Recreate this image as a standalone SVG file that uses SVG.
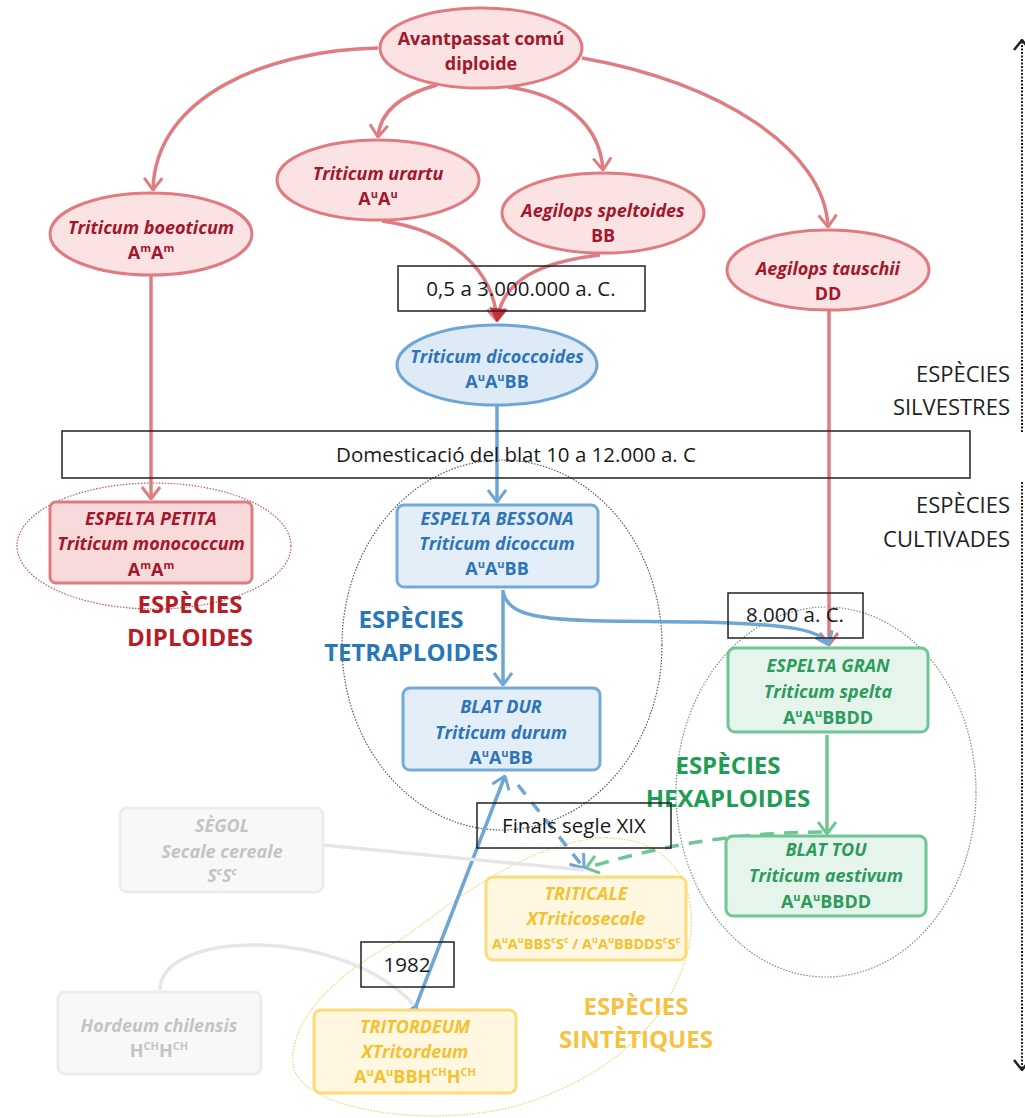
<svg xmlns="http://www.w3.org/2000/svg" width="1025" height="1118" viewBox="0 0 1025 1118">
<style>
text{font-family:"Open Sans",Lato,"Liberation Sans",sans-serif;text-anchor:middle}
.n{font-size:18px;font-weight:bold;font-style:italic}
.g{font-size:18px;font-weight:bold}
.gs{font-size:14.5px;font-weight:bold}
.lab{font-size:20.5px;fill:#1a1a1a}
.hd{font-size:22px;fill:#222;text-anchor:end}
.big{font-size:24px;font-weight:bold}
.red{fill:#a3162b}.blue{fill:#2e75b6}.grn{fill:#2c9b5c}.yel{fill:#f2c230}.gry{fill:#c4c4c4}
.er{fill:#fce3e3;stroke:#e07c80;stroke-width:3}
.eb{fill:#deebf7;stroke:#6ea6d4;stroke-width:3}
.br{fill:#f9dada;stroke:#db7d82;stroke-width:3}
.bb{fill:#e3eef8;stroke:#74aad8;stroke-width:3}
.bg{fill:#e6f5ec;stroke:#6fc594;stroke-width:3}
.by{fill:#fff7e0;stroke:#fbdc7a;stroke-width:3}
.bk{fill:#f8f8f8;stroke:#ececec;stroke-width:3}
.lb{fill:none;stroke:#222;stroke-width:1.5}
.cr{fill:none;stroke:#e07c80;stroke-width:3.5}
.cb{fill:none;stroke:#6ea6d4;stroke-width:3.5}
.cg{fill:none;stroke:#6fc594;stroke-width:3.5}
.ck{fill:none;stroke:#e6e6e6;stroke-width:3.5}
.dot{fill:none;stroke-width:1.2;stroke-dasharray:1.5 1.5}
</style>
<defs>
<marker id="mr" viewBox="0 0 14 20" refX="13" refY="10" markerWidth="14" markerHeight="20" orient="auto" markerUnits="userSpaceOnUse"><path d="M1,1 L13,10 L1,19" fill="none" stroke="#e07c80" stroke-width="3"/></marker>
<marker id="mrf" viewBox="0 0 14 20" refX="13" refY="10" markerWidth="14" markerHeight="20" orient="auto" markerUnits="userSpaceOnUse"><path d="M1,2 L13,10 L1,18 Z" fill="#c8303a" stroke="#c8303a" stroke-width="1.5"/></marker>
<marker id="mb" viewBox="0 0 14 20" refX="13" refY="10" markerWidth="14" markerHeight="20" orient="auto" markerUnits="userSpaceOnUse"><path d="M1,1 L13,10 L1,19" fill="none" stroke="#6ea6d4" stroke-width="3"/></marker>
<marker id="mg" viewBox="0 0 14 20" refX="13" refY="10" markerWidth="14" markerHeight="20" orient="auto" markerUnits="userSpaceOnUse"><path d="M1,1 L13,10 L1,19" fill="none" stroke="#6fc594" stroke-width="3"/></marker>
<marker id="mk" viewBox="0 0 12 18" refX="11" refY="9" markerWidth="12" markerHeight="18" orient="auto" markerUnits="userSpaceOnUse"><path d="M1,1 L11,9 L1,17" fill="none" stroke="#222" stroke-width="2.5"/></marker>
</defs>
<rect width="1025" height="1118" fill="#fff"/>

<g id="groups">
<ellipse class="dot" cx="154" cy="546" rx="137" ry="63" stroke="#b85a5a"/>
<ellipse class="dot" cx="502" cy="645" rx="160" ry="185" stroke="#4a5a7a"/>
<ellipse class="dot" cx="826" cy="792" rx="150" ry="185" stroke="#6a9a80"/>
<path class="dot" stroke="#f0d070" d="M600,838 C680,835 705,900 685,960 C665,1030 600,1080 520,1105 C430,1130 300,1110 293,1065 C288,1020 340,970 400,940 C450,905 520,845 600,838 Z"/>
<text class="big" fill="#b81c25" x="190" y="613">ESPÈCIES</text>
<text class="big" fill="#b81c25" x="190" y="646">DIPLOIDES</text>
<text class="big" fill="#2878b8" x="411" y="628">ESPÈCIES</text>
<text class="big" fill="#2878b8" x="411" y="661">TETRAPLOIDES</text>
<text class="big" fill="#1e9e55" x="728" y="774">ESPÈCIES</text>
<text class="big" fill="#1e9e55" x="728" y="807">HEXAPLOIDES</text>
<text class="big" fill="#f5c242" x="636" y="1015">ESPÈCIES</text>
<text class="big" fill="#f5c242" x="636" y="1048">SINTÈTIQUES</text>
<text class="hd" x="1010" y="382">ESPÈCIES</text>
<text class="hd" x="1010" y="415">SILVESTRES</text>
<text class="hd" x="1010" y="513">ESPÈCIES</text>
<text class="hd" x="1010" y="547">CULTIVADES</text>
<line x1="1022" y1="432" x2="1022" y2="40" stroke="#222" stroke-width="2" stroke-dasharray="2 1.5" marker-end="url(#mk)"/>
<line x1="1022" y1="482" x2="1022" y2="1070" stroke="#222" stroke-width="2" stroke-dasharray="2 1.5" marker-end="url(#mk)"/>
</g>

<g id="connectors">
<path class="cr" d="M378,48 C270,50 155,95 153,190" marker-end="url(#mr)"/>
<path class="cr" d="M437,85 C400,95 380,112 378,137" marker-end="url(#mr)"/>
<path class="cr" d="M508,87 C565,95 600,125 603,170" marker-end="url(#mr)"/>
<path class="cr" d="M582,58 C720,82 825,150 828,227" marker-end="url(#mr)"/>
<path class="cr" d="M382,221 C450,230 494,270 497,321" marker-end="url(#mr)"/>
<path class="cr" d="M600,255 C540,262 502,280 497,321" marker-end="url(#mrf)"/>
<path class="cr" d="M151,276 L151,499" marker-end="url(#mr)"/>
<path class="cr" d="M829,311 L829,645" marker-end="url(#mr)"/>
<path class="cb" d="M497,406 L497,502" marker-end="url(#mb)"/>
<path class="cb" d="M503,590 L503,685" marker-end="url(#mb)"/>
<path class="cb" d="M503,592 C510,625 570,620 700,622 C790,624 822,630 829,645" marker-end="url(#mb)"/>
<path class="cb" d="M416,1006 L505,776" marker-start="url(#mb)" marker-end="url(#mb)"/>
<path class="cb" d="M518,785 L584,868" stroke-dasharray="12 10" marker-end="url(#mb)"/>
<path class="cg" d="M822,832 Q705,832 586,868" stroke-dasharray="14 10" marker-end="url(#mg)"/>
<path class="cg" d="M827,735 L827,834" marker-end="url(#mg)"/>
<path class="ck" d="M323,845 L584,870"/>
<path class="ck" d="M160,990 C160,930 340,925 414,1005"/>
</g>

<g id="n-ancestor">
<ellipse class="er" cx="481" cy="48" rx="101" ry="40"/>
<text class="g red" x="481" y="45">Avantpassat comú</text>
<text class="g red" x="481" y="70">diploide</text>
</g>
<g id="n-urartu">
<ellipse class="er" cx="378" cy="180" rx="101" ry="40"/>
<text class="n red" x="378" y="180">Triticum urartu</text>
<text class="g red" x="378" y="205">A<tspan font-size="11" baseline-shift="super">u</tspan>A<tspan font-size="11" baseline-shift="super">u</tspan></text>
</g>
<g id="n-boeoticum">
<ellipse class="er" cx="151" cy="234" rx="101" ry="41"/>
<text class="n red" x="151" y="234">Triticum boeoticum</text>
<text class="g red" x="151" y="259">A<tspan font-size="11" baseline-shift="super">m</tspan>A<tspan font-size="11" baseline-shift="super">m</tspan></text>
</g>
<g id="n-speltoides">
<ellipse class="er" cx="603" cy="213" rx="101" ry="40"/>
<text class="n red" x="603" y="217">Aegilops speltoides</text>
<text class="g red" x="603" y="242">BB</text>
</g>
<g id="n-tauschii">
<ellipse class="er" cx="828" cy="270" rx="101" ry="40"/>
<text class="n red" x="828" y="275">Aegilops tauschii</text>
<text class="g red" x="828" y="300">DD</text>
</g>
<g id="n-dicoccoides">
<ellipse class="eb" cx="497" cy="365" rx="100" ry="40"/>
<text class="n blue" x="497" y="363">Triticum dicoccoides</text>
<text class="g blue" x="497" y="388">A<tspan font-size="11" baseline-shift="super">u</tspan>A<tspan font-size="11" baseline-shift="super">u</tspan>BB</text>
</g>
<g id="n-petita">
<rect class="br" x="50" y="502" width="202" height="81" rx="6"/>
<text class="n red" x="151" y="525">ESPELTA PETITA</text>
<text class="n red" x="151" y="550">Triticum monococcum</text>
<text class="g red" x="151" y="576">A<tspan font-size="11" baseline-shift="super">m</tspan>A<tspan font-size="11" baseline-shift="super">m</tspan></text>
</g>
<g id="n-bessona">
<rect class="bb" x="397" y="505" width="201" height="82" rx="7"/>
<text class="n blue" x="497" y="525">ESPELTA BESSONA</text>
<text class="n blue" x="497" y="550">Triticum dicoccum</text>
<text class="g blue" x="497" y="575">A<tspan font-size="11" baseline-shift="super">u</tspan>A<tspan font-size="11" baseline-shift="super">u</tspan>BB</text>
</g>
<g id="n-dur">
<rect class="bb" x="403" y="688" width="197" height="82" rx="7"/>
<text class="n blue" x="501" y="713">BLAT DUR</text>
<text class="n blue" x="501" y="739">Triticum durum</text>
<text class="g blue" x="501" y="764">A<tspan font-size="11" baseline-shift="super">u</tspan>A<tspan font-size="11" baseline-shift="super">u</tspan>BB</text>
</g>
<g id="n-gran">
<rect class="bg" x="728" y="648" width="200" height="84" rx="7"/>
<text class="n grn" x="828" y="672">ESPELTA GRAN</text>
<text class="n grn" x="828" y="698">Triticum spelta</text>
<text class="g grn" x="828" y="724">A<tspan font-size="11" baseline-shift="super">u</tspan>A<tspan font-size="11" baseline-shift="super">u</tspan>BBDD</text>
</g>
<g id="n-tou">
<rect class="bg" x="726" y="836" width="200" height="80" rx="7"/>
<text class="n grn" x="826" y="856">BLAT TOU</text>
<text class="n grn" x="826" y="882">Triticum aestivum</text>
<text class="g grn" x="826" y="908">A<tspan font-size="11" baseline-shift="super">u</tspan>A<tspan font-size="11" baseline-shift="super">u</tspan>BBDD</text>
</g>
<g id="n-triticale">
<rect class="by" x="486" y="877" width="200" height="83" rx="7"/>
<text class="n yel" x="586" y="900">TRITICALE</text>
<text class="n yel" x="586" y="925">XTriticosecale</text>
<text class="gs yel" x="586" y="949">A<tspan font-size="9" baseline-shift="super">u</tspan>A<tspan font-size="9" baseline-shift="super">u</tspan>BBS<tspan font-size="9" baseline-shift="super">c</tspan>S<tspan font-size="9" baseline-shift="super">c</tspan> / A<tspan font-size="9" baseline-shift="super">u</tspan>A<tspan font-size="9" baseline-shift="super">u</tspan>BBDDS<tspan font-size="9" baseline-shift="super">c</tspan>S<tspan font-size="9" baseline-shift="super">c</tspan></text>
</g>
<g id="n-segol">
<rect class="bk" x="120" y="808" width="203" height="84" rx="7"/>
<text class="n gry" x="222" y="832">SÈGOL</text>
<text class="n gry" x="222" y="858">Secale cereale</text>
<text class="n gry" x="222" y="882">S<tspan font-size="11" baseline-shift="super">c</tspan>S<tspan font-size="11" baseline-shift="super">c</tspan></text>
</g>
<g id="n-tritordeum">
<rect class="by" x="314" y="1010" width="202" height="83" rx="7"/>
<text class="n yel" x="415" y="1033">TRITORDEUM</text>
<text class="n yel" x="415" y="1058">XTritordeum</text>
<text class="g yel" x="415" y="1083">A<tspan font-size="11" baseline-shift="super">u</tspan>A<tspan font-size="11" baseline-shift="super">u</tspan>BBH<tspan font-size="11" baseline-shift="super">CH</tspan>H<tspan font-size="11" baseline-shift="super">CH</tspan></text>
</g>
<g id="n-hordeum">
<rect class="bk" x="58" y="992" width="203" height="82" rx="7"/>
<text class="n gry" x="159" y="1032">Hordeum chilensis</text>
<text class="g gry" x="159" y="1057">H<tspan font-size="11" baseline-shift="super">CH</tspan>H<tspan font-size="11" baseline-shift="super">CH</tspan></text>
</g>

<g id="labels">
<rect class="lb" x="398" y="266" width="247" height="45"/>
<text class="lab" x="521" y="296">0,5 a 3.000.000 a. C.</text>
<rect class="lb" x="62" y="431" width="908" height="47"/>
<text class="lab" x="516" y="462">Domesticació del blat 10 a 12.000 a. C</text>
<rect class="lb" x="728" y="593" width="135" height="45"/>
<text class="lab" x="795" y="622">8.000 a. C.</text>
<rect class="lb" x="477" y="803" width="194" height="45"/>
<text class="lab" x="574" y="833">Finals segle XIX</text>
<rect class="lb" x="361" y="942" width="93" height="45"/>
<text class="lab" x="407" y="972">1982</text>
</g>
</svg>
